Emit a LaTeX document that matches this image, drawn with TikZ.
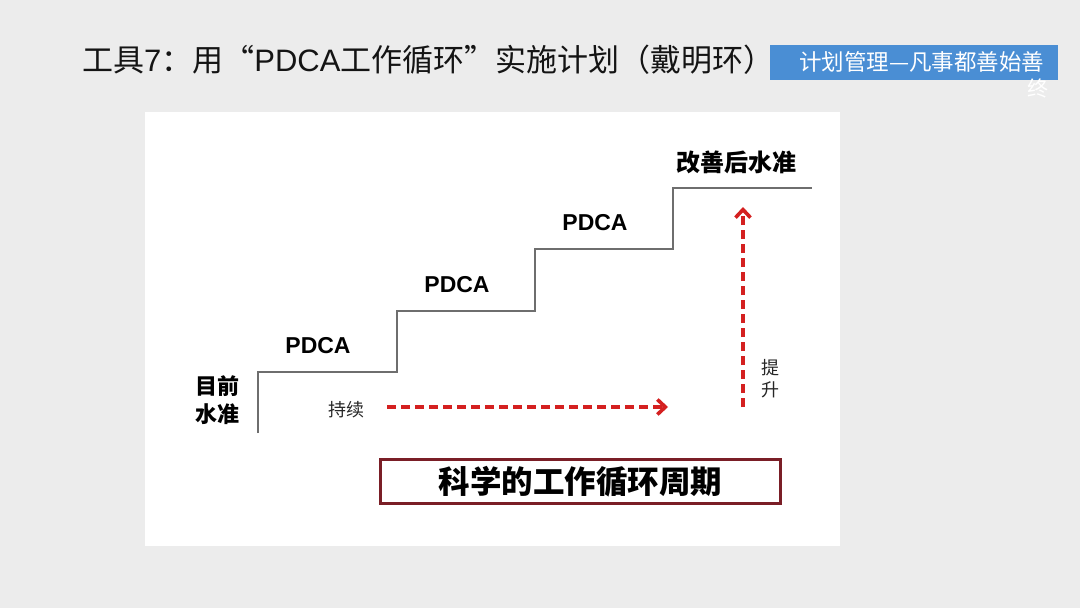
\documentclass[tikz,border=0pt]{standalone}
\usepackage{fontspec}
\setmainfont{Noto Sans CJK SC}
\newfontfamily\latinsans{Liberation Sans}
\usetikzlibrary{arrows.meta}
\definecolor{bggray}{RGB}{236,236,236}
\definecolor{bluebox}{RGB}{74,142,212}
\definecolor{stepgray}{RGB}{110,110,110}
\definecolor{arrred}{RGB}{212,32,32}
\definecolor{boxred}{RGB}{122,30,38}
\definecolor{titlecol}{RGB}{20,20,20}
\tikzset{
  stepline/.style={draw=stepgray,line width=1.8pt},
  pdcalabel/.style={font=\latinsans\bfseries\fontsize{23}{25}\selectfont,text=black,inner sep=0pt},
  levellabel/.style={font=\bfseries\fontsize{22}{28}\selectfont,text=black,inner sep=0pt,align=center},
  smalllabel/.style={font=\fontsize{18}{22}\selectfont,text=black!85,inner sep=0pt,align=center},
  redarrow/.style={draw=arrred,line width=3.4pt,dash pattern=on 9pt off 5pt,-{Straight Barb[length=8pt,width=15pt,line width=3.6pt]}}
}
\begin{document}
\begin{tikzpicture}[x=1pt,y=-1pt]
\useasboundingbox (0,0) rectangle (1080,608);
\fill[bggray] (0,0) rectangle (1080,608);
% title
\node[anchor=west,inner sep=0pt,text=titlecol,font=\fontsize{31}{33}\selectfont] (title) at (82,60) {工具{\latinsans 7}：用“{\latinsans PDCA}工作循环”实施计划（戴明环）};
% blue tag
\node[fill=bluebox,minimum width=288pt,minimum height=35pt,inner sep=0pt,anchor=north west] (tag) at (770,45) {};
\node[anchor=west,inner sep=0pt,text=white,font=\fontsize{22.5}{24}\selectfont] (tagtext) at (799,62) {计划管理—凡事都善始善};
\node[inner sep=0pt,text=white,font=\fontsize{21}{24}\selectfont] (tagtext2) at (1038,88) {终};
% white panel
\node[fill=white,minimum width=695pt,minimum height=434pt,inner sep=0pt,anchor=north west] (panel) at (145,112) {};
% staircase
\coordinate (s0) at (258,433);
\coordinate (s1) at (258,372);
\coordinate (s2) at (397,372);
\coordinate (s3) at (397,311);
\coordinate (s4) at (535,311);
\coordinate (s5) at (535,249);
\coordinate (s6) at (673,249);
\coordinate (s7) at (673,188);
\coordinate (s8) at (812,188);
\draw[stepline] (s0) -- (s1) -- (s2) -- (s3) -- (s4) -- (s5) -- (s6) -- (s7) -- (s8);
% labels
\node[pdcalabel] (p1) at (318,346) {PDCA};
\node[pdcalabel] (p2) at (457,285) {PDCA};
\node[pdcalabel] (p3) at (595,223) {PDCA};
\node[levellabel] (cur) at (217,400) {目前\\水准};
\node[levellabel,anchor=west,font=\bfseries\fontsize{24}{28}\selectfont] (after) at (676,162) {改善后水准};
\node[smalllabel] (cont) at (346,410) {持续};
\node[smalllabel] (rise) at (770,379) {提\\升};
% arrows
\coordinate (h0) at (387,407);
\coordinate (h1) at (668,407);
\coordinate (v0) at (743,407);
\coordinate (v1) at (743,207);
\draw[redarrow] (h0) -- (h1);
\draw[redarrow] (v0) -- (v1);
% bottom box
\node[draw=boxred,line width=2.6pt,fill=white,minimum width=400pt,minimum height=44pt,inner sep=0pt,font=\bfseries\fontsize{31.5}{34}\selectfont,text=black] (cycle) at (580.5,481.5) {科学的工作循环周期};
\end{tikzpicture}
\end{document}
